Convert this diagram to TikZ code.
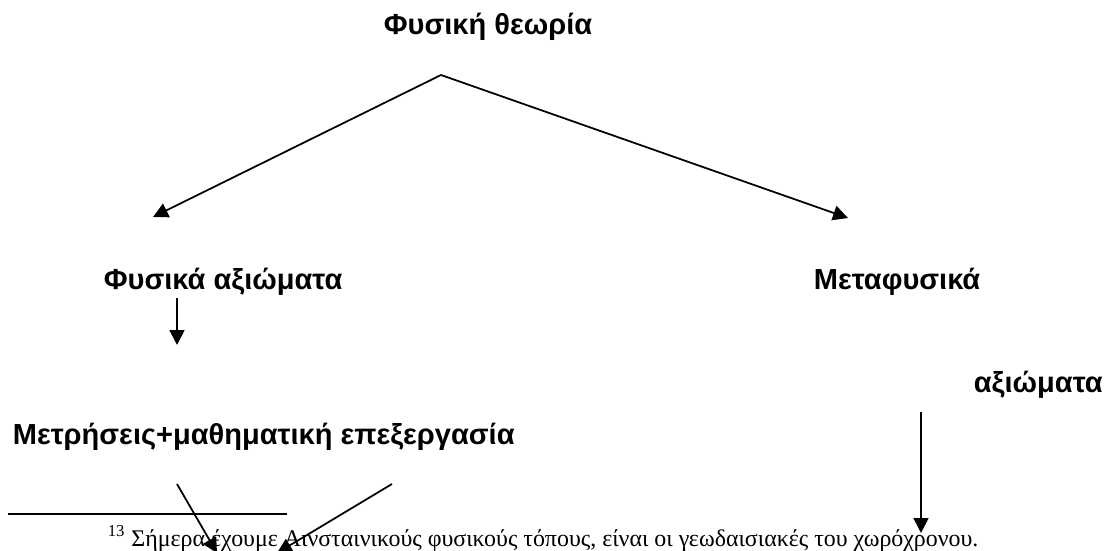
\documentclass[tikz,border=0pt]{standalone}
\usepackage{fontspec}
\setmainfont{Liberation Serif}
\newfontfamily\labelfont{Liberation Sans}
\usetikzlibrary{arrows.meta}

\begin{document}
\begin{tikzpicture}[x=0.2mm, y=-0.2mm, line width=1pt, line join=round,
                    >={Triangle[width=8.5pt,length=8.5pt]},
                    every node/.style={inner sep=0pt, anchor=base west},
                    lbl/.style={font=\labelfont\bfseries\fontsize{16.5}{20}\selectfont},
                    note/.style={font=\fontsize{13.6}{16}\selectfont}]

  %--- marco (pixeles de la figura) ---
  \useasboundingbox (0,0) rectangle (1110,551);

  %--- textos ---
  \node[lbl] (theory)  at (383,35)  {Φυσική θεωρία};
  \node[lbl] (phys)    at (103,290) {Φυσικά αξιώματα};
  \node[lbl] (meta)    at (813,290) {Μεταφυσικά};
  \node[lbl] (metaax)  at (973,392) {αξιώματα};
  \node[lbl] (measure) at (12,444)  {Μετρήσεις+μαθηματική επεξεργασία};

  %--- puntos de las flechas ---
  \coordinate (apex)     at (441,75);
  \coordinate (physTip)  at (153,217);
  \coordinate (metaTip)  at (848,218);
  \coordinate (physDown) at (177,298);
  \coordinate (measTip)  at (177,345);
  \coordinate (axTop)    at (921,412);
  \coordinate (axTip)    at (921,533);
  \coordinate (crossA)   at (177,484);
  \coordinate (crossATip) at (217,553);
  \coordinate (crossB)   at (392,484);
  \coordinate (crossBTip) at (277,553);

  %--- flechas ---
  \draw[->] (apex) -- (physTip);
  \draw[->] (apex) -- (metaTip);
  \draw[->] (physDown) -- (measTip);
  \draw[->] (axTop) -- (axTip);
  \draw[->] (crossA) -- (crossATip);
  \draw[->] (crossB) -- (crossBTip);

  %--- nota al pie ---
  \coordinate (ruleL) at (8,514);
  \coordinate (ruleR) at (287,514);
  \draw[line width=1.3pt] (ruleL) -- (ruleR);
  \node[note] (footnote) at (107,546)
      {\textsuperscript{13} Σήμερα έχουμε Αινσταινικούς φυσικούς τόπους, είναι οι γεωδαισιακές του χωρόχρονου.};

\end{tikzpicture}
\end{document}
